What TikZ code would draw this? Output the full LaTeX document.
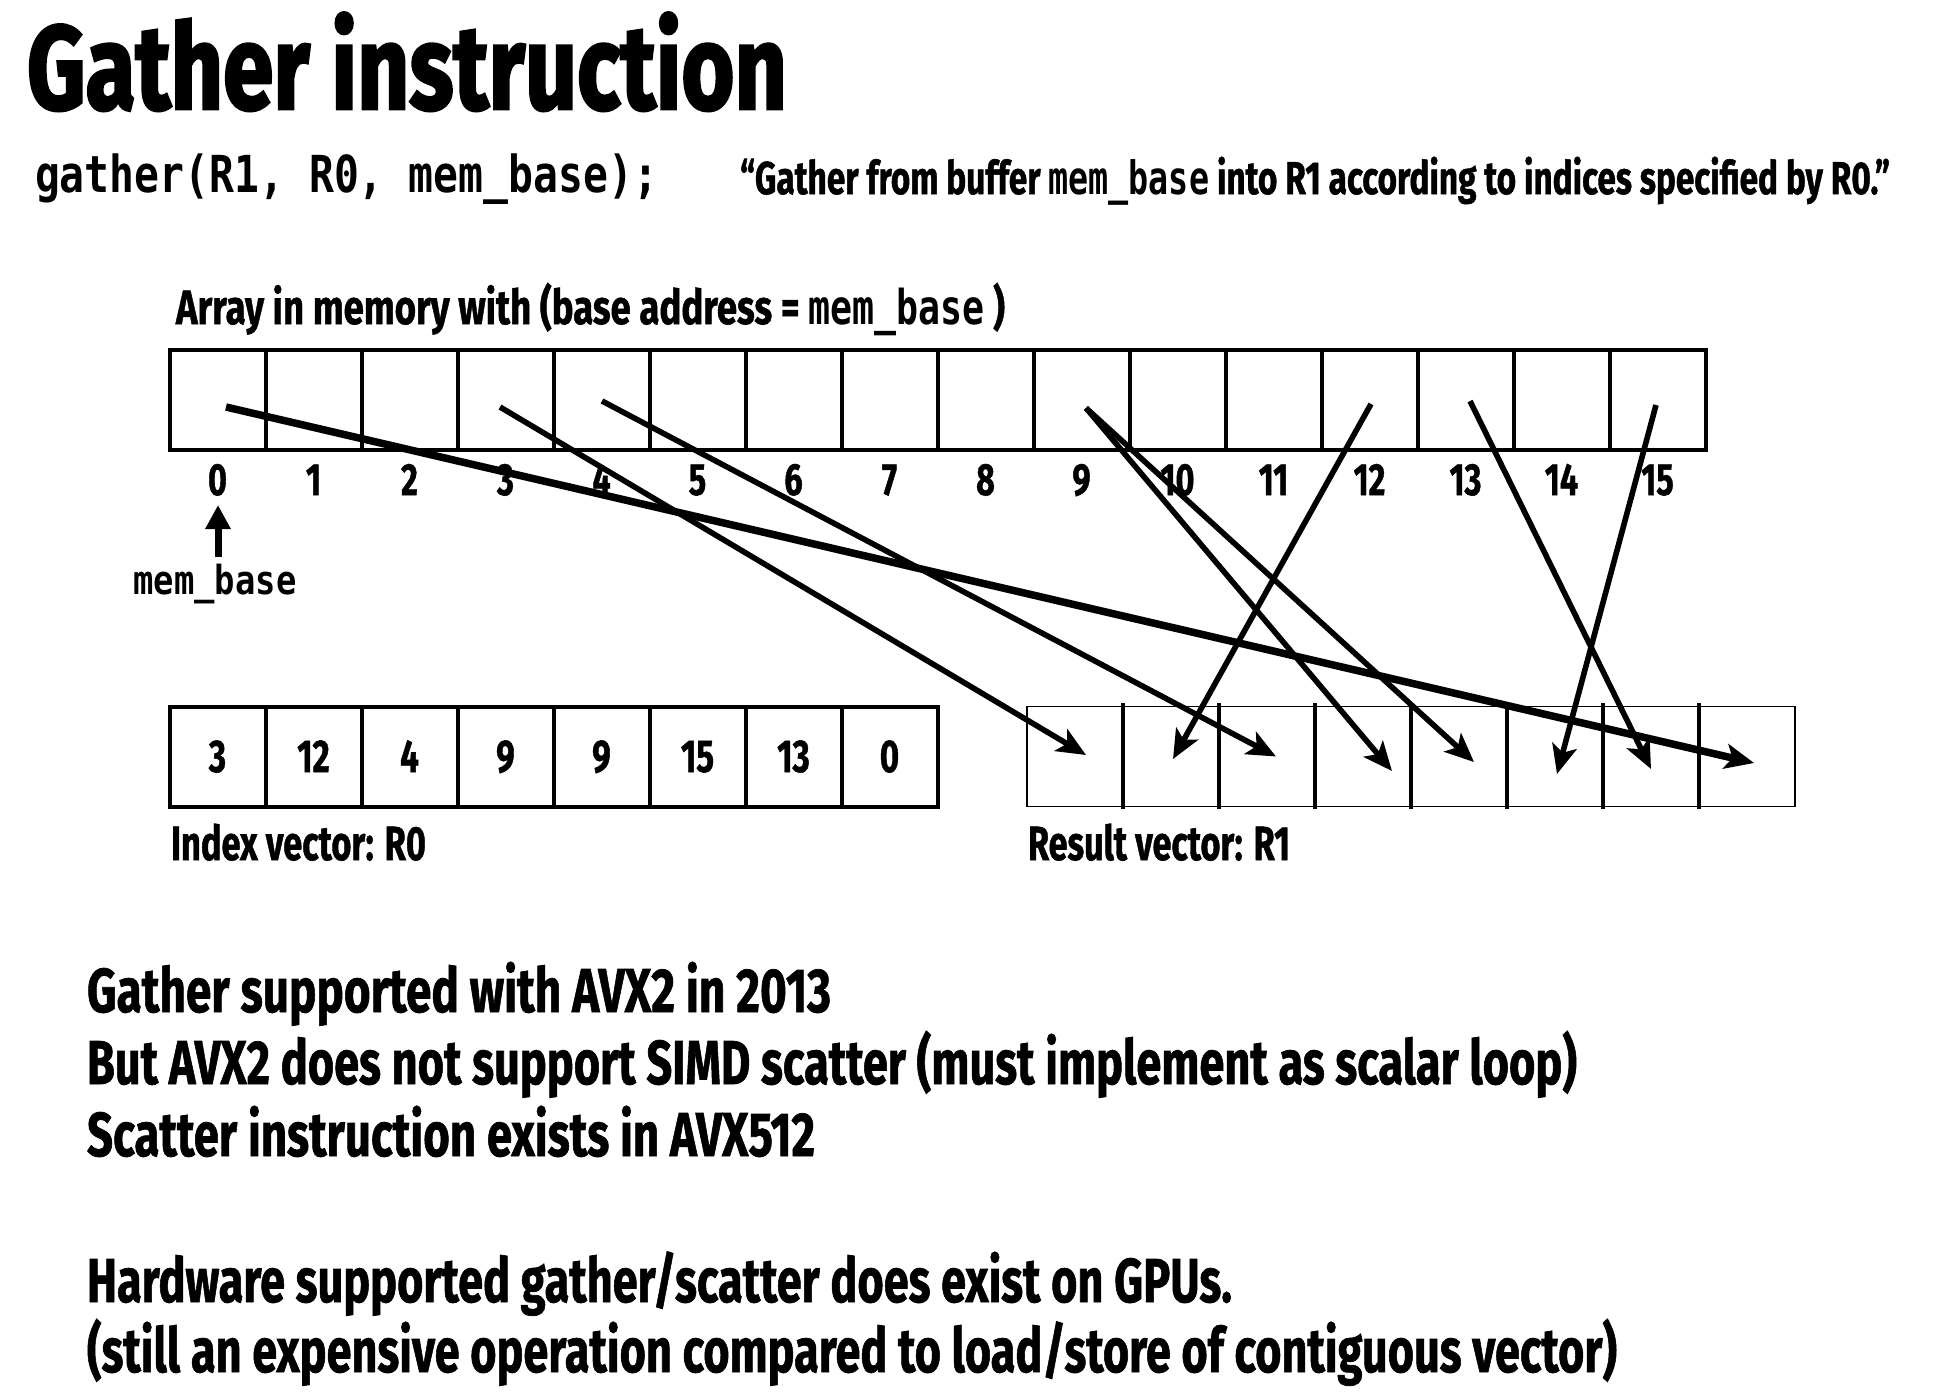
\documentclass[tikz,border=0pt]{standalone}
\usepackage{fontspec}
\usepackage{graphicx}
\setmainfont{Fira Sans}
\newfontfamily\hv{Fira Sans}[FakeBold=1.2]
\newfontfamily\hvt{Fira Sans}[FakeBold=2.5]
\newfontfamily\mono{DejaVu Sans Mono}
\usetikzlibrary{arrows.meta,calc}
\newcommand\fitto[2]{\resizebox{#1}{\height}{#2}}
\newcommand\fs[1]{\fontsize{#1pt}{#1pt}\selectfont}
\newcommand\cond[1]{\scalebox{0.72}[1]{#1}}
\begin{document}
\begin{tikzpicture}[x=1pt,y=-1pt,
  txt/.style={inner sep=0pt,outer sep=0pt},
  cell/.style={draw,line width=4pt,minimum width=96pt,minimum height=100pt,inner sep=0pt,outer sep=0pt},
  rcell/.style={minimum width=96pt,minimum height=100pt,inner sep=0pt,outer sep=0pt},
  gar/.style={line width=5.6pt,-{Stealth[length=29pt,width=25pt,inset=7pt]}},
]
\useasboundingbox (0,0) rectangle (1940,1395);
\fill[white] (0,0) rectangle (1940,1395);

% title and header
\node[txt,anchor=base west] (title) at (27,109) {\fitto{760pt}{\fs{119}\hvt\bfseries Gather instruction}};
\node[txt,anchor=base west] (code) at (35,192) {\fitto{623pt}{\fs{51}\mono\bfseries gather(R1, R0, mem\_base);}};
\node[txt,anchor=base west] (quote) at (740,194) {\fitto{1150pt}{\fs{46}\hv\bfseries “Gather from buffer {\mono\bfseries mem\_base} into R1 according to indices specified by R0.”}};

% memory array
\node[txt,anchor=base west] (arrhead) at (176,324) {\fitto{829pt}{\fs{48}\hv\bfseries Array in memory with (base address = {\mono\bfseries mem\_base} )}};
\foreach \i in {0,...,15}{
  \node[cell] (m\i) at ({169.5+96*(\i+0.5)},400) {};
  \node[txt,anchor=base] (l\i) at ({169.5+96*(\i+0.5)},495) {\cond{\fs{45}\hv\bfseries \i}};
}
\node[txt,anchor=base] (ml) at (215,594) {\fitto{163pt}{\fs{40}\mono\bfseries mem\_base}};
\coordinate (mlup) at (218,557);
\coordinate (mltip) at (218,505);
\draw[line width=7pt,-{Triangle[length=24pt,width=24pt]}] (mlup) -- (mltip);

% index vector
\foreach \v [count=\k from 0] in {3,12,4,9,9,15,13,0}{
  \node[cell] (i\k) at ({169.5+96*(\k+0.5)},756.5) {};
  \node[txt,anchor=base] (v\k) at ({169.5+96*(\k+0.5)},772) {\cond{\fs{46}\hv\bfseries \v}};
}
\node[txt,anchor=base west] (ilab) at (171,860) {\fitto{255pt}{\fs{48}\hv\bfseries Index vector: R0}};

% result vector
\node[draw,line width=1.5pt,minimum width=768pt,minimum height=100pt,inner sep=0pt] (res) at (1411,756.5) {};
\foreach \k in {0,...,7}{
  \node[rcell] (r\k) at ({1027+96*(\k+0.5)},756.5) {};
}
\foreach \k in {0,...,6}{
  \draw[line width=4pt] ([yshift=4pt]r\k.north east) -- ([yshift=-2pt]r\k.south east);
}
\node[txt,anchor=base west] (rlab) at (1028,860) {\fitto{262pt}{\fs{48}\hv\bfseries Result vector: R1}};

% gather arrows
\draw[gar,line width=7.5pt] ($(m0.center)+(8.5,7)$) -- ($(r7.center)+(7,6.5)$);
\draw[gar] ($(m3.center)+(-5.5,7)$) -- ($(r0.center)+(11,-1.5)$);
\draw[gar] ($(m4.center)+(0.5,1)$) -- ($(r2.center)+(9,0)$);
\draw[gar] ($(m9.center)+(4.5,8)$) -- ($(r3.center)+(29,14.5)$);
\draw[gar] ($(m9.center)+(4.5,8)$) -- ($(r4.center)+(15,5.5)$);
\draw[gar] ($(m12.center)+(1.5,4)$) -- ($(r1.center)+(2,2.5)$);
\draw[gar] ($(m13.center)+(4.5,1)$) -- ($(r6.center)+(0,12.5)$);
\draw[gar] ($(m15.center)+(-1.5,5)$) -- ($(r5.center)+(2,17.5)$);

% body text
\node[txt,anchor=base west] (b1) at (87,1012) {\fitto{744pt}{\fs{62}\hv\bfseries Gather supported with AVX2 in 2013}};
\node[txt,anchor=base west] (b2) at (87,1084) {\fitto{1490pt}{\fs{62}\hv\bfseries But AVX2 does not support SIMD scatter (must implement as scalar loop)}};
\node[txt,anchor=base west] (b3) at (87,1156) {\fitto{728pt}{\fs{62}\hv\bfseries Scatter instruction exists in AVX512}};
\node[txt,anchor=base west] (b4) at (87,1302) {\fitto{1145pt}{\fs{62}\hv\bfseries Hardware supported gather/scatter does exist on GPUs.}};
\node[txt,anchor=base west] (b5) at (87,1372) {\fitto{1530pt}{\fs{62}\hv\bfseries (still an expensive operation compared to load/store of contiguous vector)}};
\end{tikzpicture}
\end{document}
